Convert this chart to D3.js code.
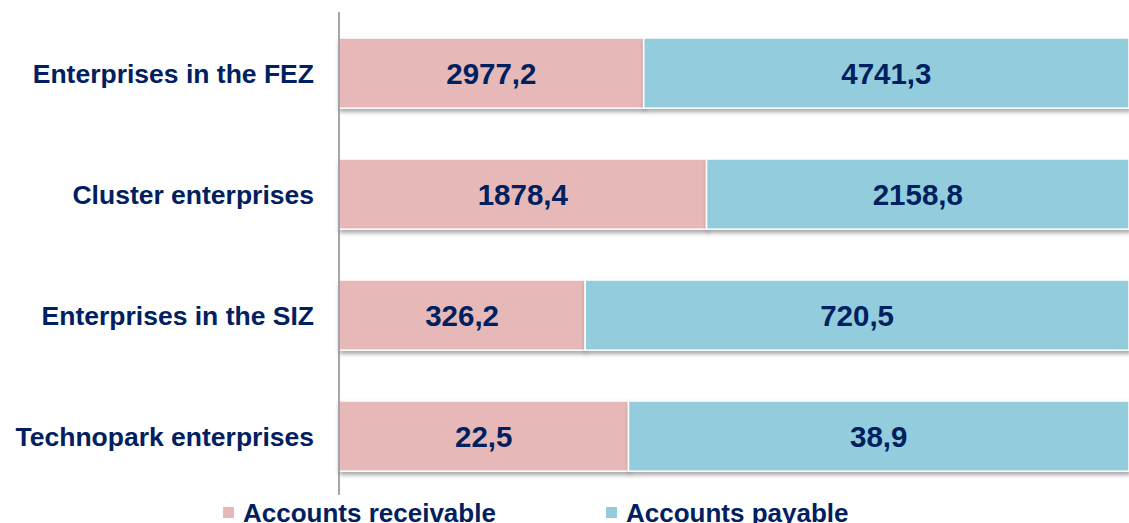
<!DOCTYPE html>
<html>
<head>
<meta charset="utf-8">
<script src="https://cdn.jsdelivr.net/npm/d3@7"></script>
<style>
    body { margin: 0; background: #fff; }
    svg { display: block; font-family: "Liberation Sans", Arial, sans-serif; }
</style>
</head>
<body>
<div id="chart"></div>
<script>
const categories = ["Enterprises in the FEZ", "Cluster enterprises", "Enterprises in the SIZ", "Technopark enterprises"];
const receivable = [2977.2, 1878.4, 326.2, 22.5];
const payable = [4741.3, 2158.8, 720.5, 38.9];
const seriesNames = ["Accounts receivable", "Accounts payable"];
const colors = ["#e6b9b8", "#93cddd"];

const width = 1129, height = 523;
const margin = {top: 12.6, right: 0, bottom: 26.4, left: 339};

const svg = d3.select("#chart").append("svg")
    .attr("width", width)
    .attr("height", height);

// soft shadow under the bars
const defs = svg.append("defs");
const filter = defs.append("filter").attr("id", "shadow")
    .attr("x", "-5%").attr("y", "-10%").attr("width", "110%").attr("height", "130%");
filter.append("feDropShadow")
    .attr("dx", 1).attr("dy", 3).attr("stdDeviation", 2)
    .attr("flood-color", "#000").attr("flood-opacity", 0.35);

const rows = categories.map((c, i) => ({cat: c, r: receivable[i], p: payable[i]}));
const stacked = d3.stack()
    .keys(["r", "p"])
    .offset(d3.stackOffsetExpand)(rows);

const x = d3.scaleLinear()
    .domain([0, 1])
    .range([margin.left, width - margin.right]);

const y = d3.scaleBand()
    .domain(categories)
    .range([margin.top, height - margin.bottom])
    .paddingInner(0.42)
    .paddingOuter(0.21);

const layers = svg.append("g").selectAll("g")
    .data(stacked)
    .join("g")
    .attr("fill", (d, i) => colors[i]);

layers.selectAll("rect")
    .data(d => d)
    .join("rect")
    .attr("x", d => x(d[0]))
    .attr("y", d => y(d.data.cat))
    .attr("width", d => x(d[1]) - x(d[0]))
    .attr("height", y.bandwidth())
    .attr("stroke", "#fff")
    .attr("stroke-width", 1.5)
    .attr("filter", "url(#shadow)");

// value labels
layers.selectAll("text")
    .data((d, i) => d.map(v => ({v: v, val: i === 0 ? v.data.r : v.data.p})))
    .join("text")
    .attr("x", d => (x(d.v[0]) + x(d.v[1])) / 2)
    .attr("y", d => y(d.v.data.cat) + y.bandwidth() / 2)
    .attr("dy", "0.36em")
    .attr("text-anchor", "middle")
    .attr("fill", "#002060")
    .attr("font-weight", "bold")
    .attr("font-size", 29.5)
    .text(d => d.val.toFixed(1).replace(".", ","));

// vertical axis line
svg.append("line")
    .attr("x1", margin.left).attr("x2", margin.left)
    .attr("y1", 12).attr("y2", 495)
    .attr("stroke", "#888")
    .attr("stroke-width", 1.5);

// category labels
svg.append("g").selectAll("text")
    .data(categories)
    .join("text")
    .attr("x", 314)
    .attr("y", d => y(d) + y.bandwidth() / 2)
    .attr("dy", "0.36em")
    .attr("text-anchor", "end")
    .attr("fill", "#002060")
    .attr("font-weight", "bold")
    .attr("font-size", 26.5)
    .text(d => d);

// legend
const legendX = [223, 606];
const legend = svg.append("g").selectAll("g")
    .data(seriesNames)
    .join("g")
    .attr("transform", (d, i) => "translate(" + legendX[i] + ",0)");
legend.append("rect")
    .attr("x", 0).attr("y", 507)
    .attr("width", 11).attr("height", 11)
    .attr("fill", (d, i) => colors[i]);
legend.append("text")
    .attr("x", 20).attr("y", 522)
    .attr("fill", "#002060")
    .attr("font-weight", "bold")
    .attr("font-size", 26)
    .text(d => d);
</script>
</body>
</html>
